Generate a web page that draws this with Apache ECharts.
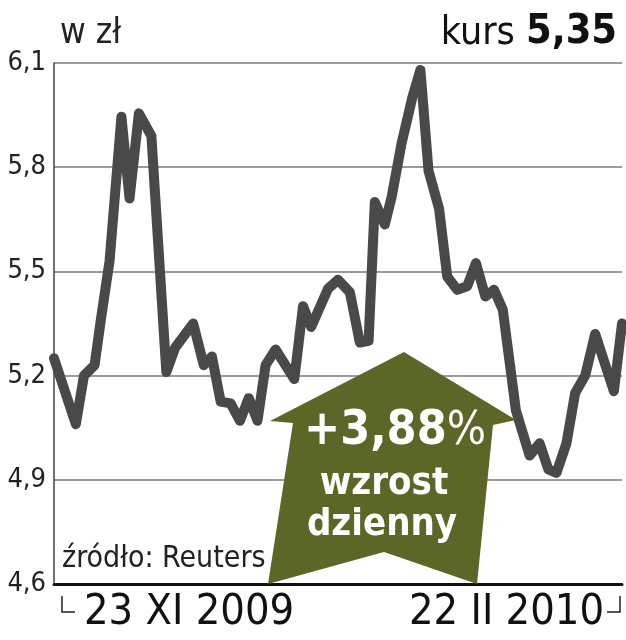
<!DOCTYPE html>
<html>
<head>
<meta charset="utf-8">
<script src="https://cdn.jsdelivr.net/npm/echarts@6/dist/echarts.min.js"></script>
<style>
  html, body { margin: 0; padding: 0; background: #fff; }
  #chart { width: 626px; height: 640px; }
</style>
</head>
<body>
<div id="chart"></div>
<script>
// dni od 23 XI 2009 (oś X) i kurs w zł
const days = [0, 3.5, 4.8, 6.5, 7.5, 8.9, 10.8, 12.1, 13.6, 15.6, 18.0, 19.4, 22.3, 24.0, 25.3,
  26.7, 28.3, 29.8, 31.2, 32.6, 33.9, 35.5, 38.5, 39.9, 41.2, 43.9, 45.5, 47.4, 49.0, 50.4,
  51.4, 53.0, 54.1, 55.7, 57.4, 58.7, 60.0, 61.7, 63.0, 64.6, 66.2, 67.6, 69.1, 70.5, 71.9,
  74.0, 76.2, 77.8, 79.2, 80.5, 82.1, 83.5, 85.1, 86.7, 89.7, 91];
const kurs = [5.25, 5.06, 5.20, 5.23, 5.36, 5.53, 5.945, 5.71, 5.955, 5.89, 5.21, 5.28, 5.35, 5.23, 5.255,
  5.125, 5.12, 5.07, 5.135, 5.07, 5.23, 5.275, 5.19, 5.40, 5.34, 5.45, 5.476, 5.44, 5.295, 5.30,
  5.70, 5.635, 5.715, 5.87, 6.00, 6.08, 5.79, 5.68, 5.485, 5.447, 5.457, 5.524, 5.428, 5.447, 5.39,
  5.10, 4.97, 5.005, 4.93, 4.92, 5.005, 5.15, 5.20, 5.32, 5.155, 5.35];
const yTicks = [4.6, 4.9, 5.2, 5.5, 5.8, 6.1];
const dateLabels = ['23 XI 2009', '22 II 2010'];
const lastValue = '5,35';
const change = '+3,88';

const narrow = "'Liberation Sans Narrow', 'DejaVu Sans Condensed', sans-serif";

const chart = echarts.init(document.getElementById('chart'));

const option = {
  animation: false,
  grid: {
    left: 54,
    right: 4,
    top: 63,
    bottom: 56
  },
  xAxis: {
    type: 'value',
    min: 0,
    max: 91,
    axisLine: { show: true, onZero: false, lineStyle: { color: '#111', width: 3 } },
    axisTick: { show: false },
    axisLabel: { show: false },
    splitLine: { show: false }
  },
  yAxis: {
    type: 'value',
    min: yTicks[0],
    max: yTicks[yTicks.length - 1],
    interval: 0.3,
    axisLine: { show: true, lineStyle: { color: '#444', width: 1.5 } },
    axisTick: { show: false },
    axisLabel: {
      color: '#222',
      fontFamily: narrow,
      fontSize: 27,
      margin: 8,
      formatter: v => v.toFixed(1).replace('.', ',')
    },
    splitLine: { show: true, lineStyle: { color: '#9b9b9b', width: 2 } }
  },
  series: [
    {
      type: 'line',
      data: days.map((d, i) => [d, kurs[i]]),
      symbol: 'none',
      lineStyle: { color: '#494949', width: 10, join: 'round', cap: 'round' },
      z: 3
    }
  ],
  graphic: [
    {
      type: 'text', left: 60, top: 16,
      style: { text: 'w zł', fontFamily: narrow, fontSize: 35, fill: '#222' }
    },
    {
      type: 'text', right: 9, top: 12,
      style: {
        text: '{a|kurs }{b|' + lastValue + '}',
        rich: {
          a: { fontFamily: narrow, fontSize: 39, fill: '#111', verticalAlign: 'bottom' },
          b: { fontFamily: narrow, fontSize: 41, fontWeight: 'bold', fill: '#111', verticalAlign: 'bottom' }
        }
      }
    },
    {
      type: 'text', left: 62, top: 544,
      style: { text: 'źródło: Reuters', fontFamily: narrow, fontSize: 30, fill: '#222' }
    },
    // strzałka
    {
      type: 'polygon', z: 5,
      shape: {
        points: [[404, 352], [516, 420], [493, 425], [477, 584], [384, 552], [268, 584], [293, 423], [270, 421]]
      },
      style: { fill: '#5b6726' }
    },
    {
      type: 'text', z: 6, x: 395, y: 432,
      style: {
        text: '{a|' + change + '}{b|%}',
        align: 'center', verticalAlign: 'middle',
        rich: {
          a: { fontFamily: narrow, fontSize: 48, fontWeight: 'bold', fill: '#fff' },
          b: { fontFamily: narrow, fontSize: 46, fill: '#fff' }
        }
      }
    },
    {
      type: 'text', z: 6, x: 384, y: 484,
      style: { text: 'wzrost', align: 'center', verticalAlign: 'middle', fontFamily: narrow, fontSize: 38, fontWeight: 'bold', fill: '#fff' }
    },
    {
      type: 'text', z: 6, x: 382, y: 525,
      style: { text: 'dzienny', align: 'center', verticalAlign: 'middle', fontFamily: narrow, fontSize: 38, fontWeight: 'bold', fill: '#fff' }
    },
    // daty pod osią
    {
      type: 'polyline',
      shape: { points: [[62, 596], [62, 612], [75, 612]] },
      style: { stroke: '#222', lineWidth: 1.5, fill: null }
    },
    {
      type: 'polyline',
      shape: { points: [[607, 612], [620, 612], [620, 596]] },
      style: { stroke: '#222', lineWidth: 1.5, fill: null }
    },
    {
      type: 'text', left: 84, top: 591,
      style: { text: dateLabels[0], fontFamily: narrow, fontSize: 43, fill: '#111' }
    },
    {
      type: 'text', right: 22, top: 591,
      style: { text: dateLabels[1], fontFamily: narrow, fontSize: 43, fill: '#111' }
    }
  ]
};

chart.setOption(option);
</script>
</body>
</html>
